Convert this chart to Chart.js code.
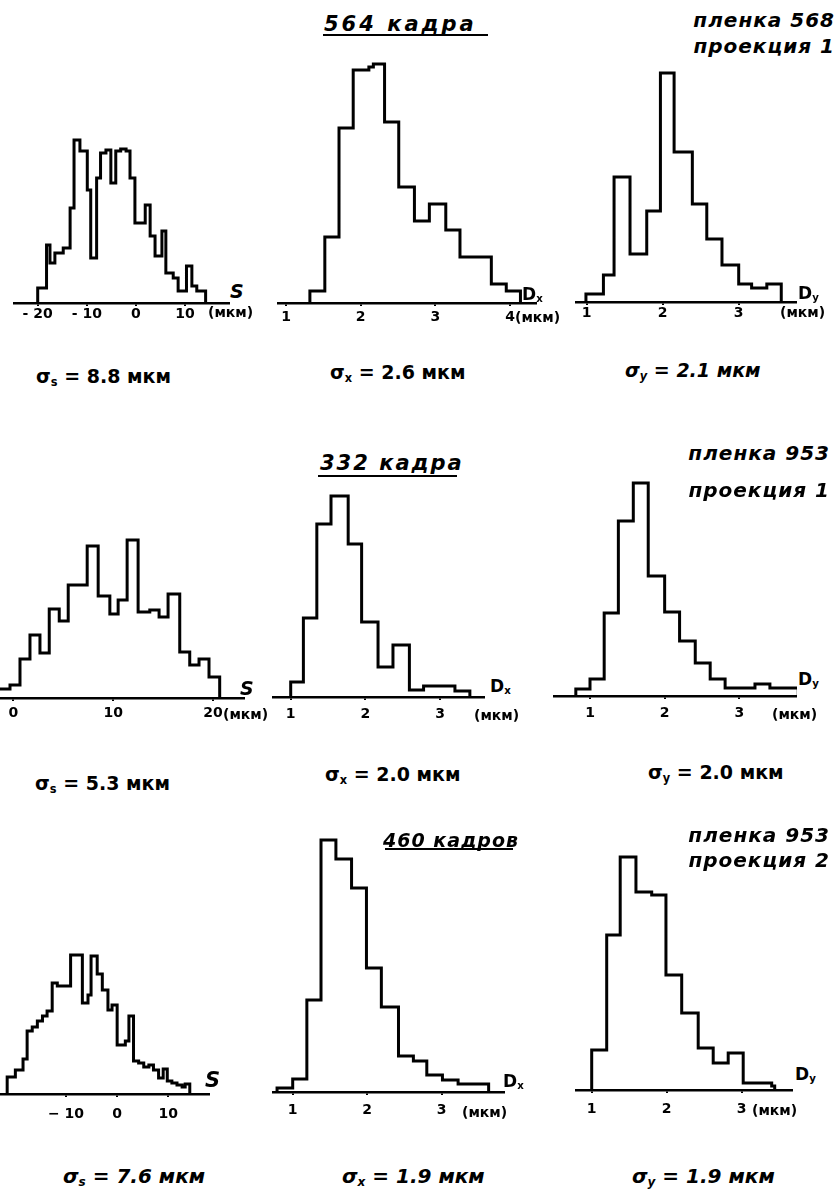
<!DOCTYPE html>
<html>
<head>
<meta charset="utf-8">
<script src="https://cdn.jsdelivr.net/npm/chart.js@4.4.1/dist/chart.umd.min.js"></script>
<style>
body { margin: 0; background: #fff; }
#page { position: relative; width: 838px; height: 1192px; overflow: hidden; background: #fff; }
canvas { position: absolute; }
.t { position: absolute; color: #000; font-family: "DejaVu Sans", sans-serif; font-weight: bold;
     white-space: nowrap; line-height: 1; transform: translateY(-50%); }
.i { font-style: italic; }
.ln { position: absolute; height: 2px; background: #000; }
sub { font-size: 0.6em; vertical-align: -0.25em; }
</style>
</head>
<body>
<div id="page"></div>
<script>
// границы интервалов и высоты ступеней (отсчитаны по рисунку)
// пленка 568, проекция 1 (564 кадра)
const s1Edges = [-20, -18.2, -17.5, -16.5, -14.8, -13.4, -12.6, -11.4, -9.9, -9.2, -8.0, -7.2, -6.1, -5.1, -4.1,
                 -3.1, -2.0, -1.2, -0.2, 1.9, 2.9, 3.9, 5.3, 6.1, 7.6, 8.6, 10.3, 11.4, 12.4, 14.2];
const s1Counts = [15, 58, 40, 50, 55, 95, 163, 152, 113, 45, 125, 150, 153, 120, 152,
                  154, 152, 125, 80, 98, 67, 47, 72, 30, 25, 12, 37, 17, 12];
const dx1Edges = [1.32, 1.52, 1.71, 1.9, 2.11, 2.17, 2.32, 2.51, 2.72, 2.92, 3.14, 3.33, 3.75, 3.95, 4.14];
const dx1Counts = [12, 66, 175, 233, 236, 239, 181, 116, 82, 99, 73, 46, 19, 12];
const dy1Edges = [0.99, 1.22, 1.36, 1.57, 1.79, 1.97, 2.15, 2.39, 2.58, 2.78, 3.0, 3.17, 3.37, 3.56];
const dy1Counts = [8, 27, 125, 48, 91, 229, 150, 98, 63, 37, 18, 14, 18];

// пленка 953, проекция 1 (332 кадра)
const s2Edges = [-2.3, -0.33, 0.67, 1.67, 2.67, 3.6, 4.6, 5.5, 7.4, 8.5, 9.67, 10.5, 11.4, 12.5, 13.67,
                 14.6, 15.5, 16.67, 17.67, 18.6, 19.6, 20.67];
const s2Counts = [9, 13, 39, 63, 45, 89, 77, 113, 152, 102, 84, 98, 158, 86, 88, 81, 104, 46, 33, 39, 21];
const dx2Edges = [1.0, 1.17, 1.35, 1.54, 1.77, 1.95, 2.17, 2.37, 2.59, 2.78, 3.2, 3.4];
const dx2Counts = [15, 79, 173, 201, 153, 75, 30, 52, 7, 11, 6];
const dy2Edges = [0.81, 1.0, 1.19, 1.38, 1.58, 1.78, 2.0, 2.2, 2.41, 2.61, 2.81, 3.21, 3.41, 3.79];
const dy2Counts = [7, 17, 83, 175, 213, 120, 84, 55, 33, 17, 8, 12, 8];

// пленка 953, проекция 2 (460 кадров)
const s3Edges = [-21.5, -19.9, -18.4, -17.6, -16.6, -15.6, -14.6, -13.7, -12.7, -11.7, -9.1, -6.8, -5.7, -5.1,
                 -3.9, -2.9, -1.8, -1.0, 0, 1.6, 2.3, 3.2, 4.2, 5.2, 6.2, 7.1, 8.1, 9.0, 9.8, 10.7, 11.7,
                 12.7, 13.3, 14.2];
const s3Counts = [17, 24, 35, 63, 67, 73, 78, 83, 111, 108, 139, 91, 99, 138, 120, 104, 84, 89, 49, 53, 78,
                  33, 31, 27, 29, 24, 16, 25, 13, 11, 9, 7, 10];
const dx3Edges = [0.79, 1.0, 1.19, 1.38, 1.58, 1.79, 1.99, 2.19, 2.42, 2.62, 2.8, 3.01, 3.22, 3.63];
const dx3Counts = [4, 13, 92, 252, 233, 204, 124, 85, 36, 31, 17, 12, 8];
const dy3Edges = [1.0, 1.2, 1.38, 1.59, 1.8, 1.99, 2.2, 2.42, 2.62, 2.82, 3.02, 3.4, 3.44];
const dy3Counts = [40, 155, 233, 198, 195, 115, 77, 42, 27, 37, 7, 4];

// деления осей
const s1Ticks = [-20, -10, 0, 10];
const s1TickLabels = ['- 20', '- 10', '0', '10'];
const dx1Ticks = [1, 2, 3, 4];
const dyTicks = [1, 2, 3];
const s2Ticks = [0, 10, 20];
const s3Ticks = [-10, 0, 10];
const s3TickLabels = ['− 10', '0', '10'];

const AXIS_H = 40;
const PAD_TOP = 5;

// расположение панелей: left/right/top канвы, y оси, калибровка [v1, px1, v2, px2]
const panels = [
  { edges: s1Edges, counts: s1Counts, ticks: s1Ticks, labels: s1TickLabels,
    left: 13, right: 230, top: 125, axisY: 303, cal: [-20, 37.7, 10, 185], pad: 0 },
  { edges: dx1Edges, counts: dx1Counts, ticks: dx1Ticks,
    left: 277, right: 537, top: 50, axisY: 303, cal: [1, 286, 4, 510], pad: 3 },
  { edges: dy1Edges, counts: dy1Counts, ticks: dyTicks,
    left: 575, right: 797, top: 60, axisY: 302, cal: [1, 586.7, 3, 738.7], pad: 0 },
  { edges: s2Edges, counts: s2Counts, ticks: s2Ticks,
    left: 0, right: 245, top: 525, axisY: 698, cal: [0, 13.3, 20, 213], pad: 4 },
  { edges: dx2Edges, counts: dx2Counts, ticks: dyTicks,
    left: 272, right: 485, top: 480, axisY: 697, cal: [1, 290.7, 3, 440], pad: 6 },
  { edges: dy2Edges, counts: dy2Counts, ticks: dyTicks,
    left: 553, right: 797, top: 470, axisY: 696, cal: [1, 590, 3, 739.3], pad: 6 },
  { edges: s3Edges, counts: s3Counts, ticks: s3Ticks, labels: s3TickLabels,
    left: 0, right: 210, top: 940, axisY: 1094, cal: [-10, 66, 10, 168.3], pad: 9 },
  { edges: dx3Edges, counts: dx3Counts, ticks: dyTicks,
    left: 272, right: 505, top: 825, axisY: 1092, cal: [1, 292.7, 3, 441.7], pad: 7 },
  { edges: dy3Edges, counts: dy3Counts, ticks: dyTicks,
    left: 575, right: 793, top: 845, axisY: 1090, cal: [1, 591.7, 3, 741.7], pad: 8 }
];

const page = document.getElementById('page');

function stepPoints(edges, counts) {
  const pts = [{ x: edges[0], y: 0 }];
  counts.forEach((c, i) => pts.push({ x: edges[i], y: c }));
  pts.push({ x: edges[edges.length - 1], y: 0 });
  return pts;
}

panels.forEach(p => {
  const w = p.right - p.left;
  const h = p.axisY - p.top + AXIS_H;
  const cv = document.createElement('canvas');
  cv.width = w;
  cv.height = h;
  cv.style.left = p.left + 'px';
  cv.style.top = p.top + 'px';
  page.appendChild(cv);

  const ppu = (p.cal[3] - p.cal[1]) / (p.cal[2] - p.cal[0]);
  const xMin = p.cal[0] - (p.cal[1] - p.left) / ppu;
  const xMax = p.cal[0] + (p.right - p.cal[1]) / ppu;

  new Chart(cv, {
    type: 'line',
    data: {
      datasets: [{
        data: stepPoints(p.edges, p.counts),
        stepped: true,
        borderColor: '#000',
        borderWidth: 3,
        pointRadius: 0,
        fill: false
      }]
    },
    options: {
      responsive: false,
      animation: false,
      devicePixelRatio: 1,
      layout: { padding: { top: PAD_TOP, left: 0, right: 0, bottom: 0 } },
      plugins: { legend: { display: false }, tooltip: { enabled: false } },
      scales: {
        x: {
          type: 'linear',
          min: xMin,
          max: xMax,
          afterBuildTicks: s => { s.ticks = p.ticks.map(v => ({ value: v })); },
          afterFit: s => { s.height = AXIS_H; },
          grid: { drawOnChartArea: false, drawTicks: true, tickLength: 3, color: '#000', lineWidth: 2 },
          border: { display: true, color: '#000', width: 2.5 },
          ticks: {
            autoSkip: false,
            maxRotation: 0,
            padding: p.pad,
            color: '#000',
            font: { family: 'DejaVu Sans', size: 14, weight: 'bold' },
            callback: v => {
              const k = p.ticks.indexOf(v);
              return p.labels ? p.labels[k] : String(v);
            }
          }
        },
        y: { display: false, min: 0, max: p.axisY - p.top - PAD_TOP }
      }
    }
  });
});

// подписи
const texts = [
  { x: 324, y: 24, s: 21, it: true, ls: 3, h: '564 кадра' },
  { r: 3, y: 20, s: 20, it: true, ls: 1, h: 'пленка 568' },
  { r: 3, y: 46, s: 20, it: true, ls: 1, h: 'проекция 1' },
  { x: 230, y: 291, s: 19, it: true, h: 'S' },
  { x: 515, y: 317, s: 14, h: '(мкм)' },
  { x: 522, y: 295, s: 17, h: 'D<sub>x</sub>' },
  { x: 780, y: 312, s: 14, h: '(мкм)' },
  { x: 798, y: 294, s: 17, h: 'D<sub>y</sub>' },
  { x: 208, y: 312, s: 14, h: '(мкм)' },
  { x: 36, y: 378, s: 19, h: 'σ<sub>s</sub> = 8.8 мкм' },
  { x: 330, y: 374, s: 19, h: 'σ<sub>x</sub> = 2.6 мкм' },
  { x: 625, y: 372, s: 19, it: true, h: 'σ<sub>y</sub> = 2.1 мкм' },

  { x: 320, y: 463, s: 21, it: true, ls: 2, h: '332 кадра' },
  { r: 8, y: 453, s: 20, it: true, ls: 1, h: 'пленка 953' },
  { r: 8, y: 490, s: 20, it: true, ls: 1, h: 'проекция 1' },
  { x: 240, y: 688, s: 19, it: true, h: 'S' },
  { x: 223, y: 714, s: 14, h: '(мкм)' },
  { x: 490, y: 687, s: 17, h: 'D<sub>x</sub>' },
  { x: 474, y: 715, s: 14, h: '(мкм)' },
  { x: 798, y: 680, s: 17, h: 'D<sub>y</sub>' },
  { x: 772, y: 714, s: 14, h: '(мкм)' },
  { x: 35, y: 785, s: 19, h: 'σ<sub>s</sub> = 5.3 мкм' },
  { x: 325, y: 776, s: 19, h: 'σ<sub>x</sub> = 2.0 мкм' },
  { x: 648, y: 774, s: 19, h: 'σ<sub>y</sub> = 2.0 мкм' },

  { x: 383, y: 840, s: 19, it: true, ls: 1, h: '460 кадров' },
  { r: 8, y: 835, s: 20, it: true, ls: 1, h: 'пленка 953' },
  { r: 8, y: 860, s: 20, it: true, ls: 1, h: 'проекция 2' },
  { x: 205, y: 1080, s: 21, it: true, h: 'S' },
  { x: 503, y: 1082, s: 17, h: 'D<sub>x</sub>' },
  { x: 462, y: 1112, s: 14, h: '(мкм)' },
  { x: 795, y: 1075, s: 17, h: 'D<sub>y</sub>' },
  { x: 752, y: 1110, s: 14, h: '(мкм)' },
  { x: 63, y: 1177, s: 20, it: true, h: 'σ<sub>s</sub> = 7.6 мкм' },
  { x: 342, y: 1177, s: 20, it: true, h: 'σ<sub>x</sub> = 1.9 мкм' },
  { x: 632, y: 1177, s: 20, it: true, h: 'σ<sub>y</sub> = 1.9 мкм' }
];

texts.forEach(t => {
  const d = document.createElement('div');
  d.className = 't' + (t.it ? ' i' : '');
  d.innerHTML = t.h;
  d.style.fontSize = t.s + 'px';
  d.style.top = t.y + 'px';
  if (t.r !== undefined) d.style.right = t.r + 'px'; else d.style.left = t.x + 'px';
  if (t.ls) d.style.letterSpacing = t.ls + 'px';
  page.appendChild(d);
});

// подчеркивания заголовков
[[323, 488, 34], [318, 457, 475], [385, 513, 848]].forEach(([a, b, y]) => {
  const l = document.createElement('div');
  l.className = 'ln';
  l.style.left = a + 'px';
  l.style.width = (b - a) + 'px';
  l.style.top = y + 'px';
  page.appendChild(l);
});
</script>
</body>
</html>
